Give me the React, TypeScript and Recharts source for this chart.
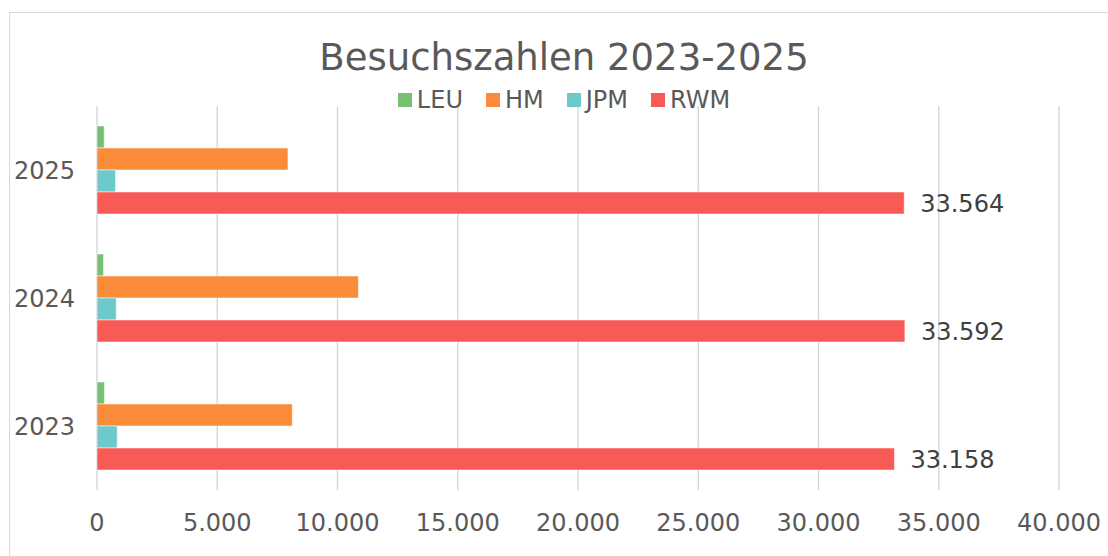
import { BarChart, Bar, XAxis, YAxis, CartesianGrid, LabelList } from 'recharts';

const years = ['2023', '2024', '2025'];
const leu = [310, 270, 300];
const hm = [8120, 10870, 7940];
const jpm = [840, 800, 770];
const rwm = [33158, 33592, 33564];

const xTicks = [0, 5000, 10000, 15000, 20000, 25000, 30000, 35000, 40000];

const SERIES = [
  { key: 'LEU', color: '#77C072' },
  { key: 'HM', color: '#F98B39' },
  { key: 'JPM', color: '#6DCACB' },
  { key: 'RWM', color: '#F85A55' },
];

const data = years.map((year, i) => ({
  year,
  LEU: leu[i],
  HM: hm[i],
  JPM: jpm[i],
  RWM: rwm[i],
}));

const FONT = '"DejaVu Sans", Verdana, sans-serif';
const TEXT = '#595959';

function fmt(v: number | string) {
  return String(v).replace(/\B(?=(\d{3})+(?!\d))/g, '.');
}

function LegendRow() {
  return (
    <div style={{ display: 'flex', justifyContent: 'center', gap: 23, fontSize: 24, lineHeight: '26px', color: TEXT }}>
      {SERIES.map((s) => (
        <div key={s.key} style={{ display: 'flex', alignItems: 'center', gap: 5 }}>
          <span style={{ display: 'inline-block', width: 14, height: 14, background: s.color }} />
          <span>{s.key}</span>
        </div>
      ))}
    </div>
  );
}

export default function App() {
  return (
    <div
      style={{
        position: 'absolute',
        left: 0,
        top: 0,
        width: 1108,
        height: 556,
        overflow: 'hidden',
        background: '#fff',
        fontFamily: FONT,
      }}
    >
      <div
        style={{
          position: 'absolute',
          left: 9,
          top: 12,
          width: 1200,
          height: 700,
          border: '1px solid #d9d9d9',
        }}
      />
      <div
        style={{
          position: 'absolute',
          left: 0,
          width: 1128,
          top: 39,
          lineHeight: '37px',
          fontSize: 37,
          color: TEXT,
          textAlign: 'center',
        }}
      >
        Besuchszahlen 2023-2025
      </div>
      <div style={{ position: 'absolute', left: 0, top: 0 }}>
        <BarChart
          width={1108}
          height={556}
          data={data}
          layout="vertical"
          margin={{ top: 106, right: 49, bottom: 26, left: 7 }}
          barCategoryGap={20}
          barGap={0}
        >
          <CartesianGrid horizontal={false} vertical stroke="#d6d6d6" strokeWidth={1.4} />
          <XAxis
            type="number"
            domain={[0, 40000]}
            ticks={xTicks}
            tickFormatter={fmt}
            axisLine={false}
            tickLine={false}
            tickMargin={18}
            height={40}
            interval={0}
            tick={{ fill: TEXT, fontSize: 24, fontFamily: FONT }}
          />
          <YAxis
            type="category"
            dataKey="year"
            reversed
            width={90}
            axisLine={false}
            tickLine={false}
            tickMargin={16}
            tick={{ fill: TEXT, fontSize: 24, fontFamily: FONT }}
          />
          {SERIES.map((s) => (
            <Bar
              key={s.key}
              dataKey={s.key}
              fill={s.color}
              stroke="#ffffff"
              strokeOpacity={0.5}
              strokeWidth={1}
              isAnimationActive={false}
            >
              {s.key === 'RWM' && (
                <LabelList
                  dataKey="RWM"
                  position="right"
                  offset={16}
                  formatter={fmt}
                  fill="#404040"
                  fontSize={24}
                  fontFamily={FONT}
                />
              )}
            </Bar>
          ))}
        </BarChart>
      </div>
      <div style={{ position: 'absolute', left: 0, top: 87, width: 1128 }}>
        <LegendRow />
      </div>
    </div>
  );
}
